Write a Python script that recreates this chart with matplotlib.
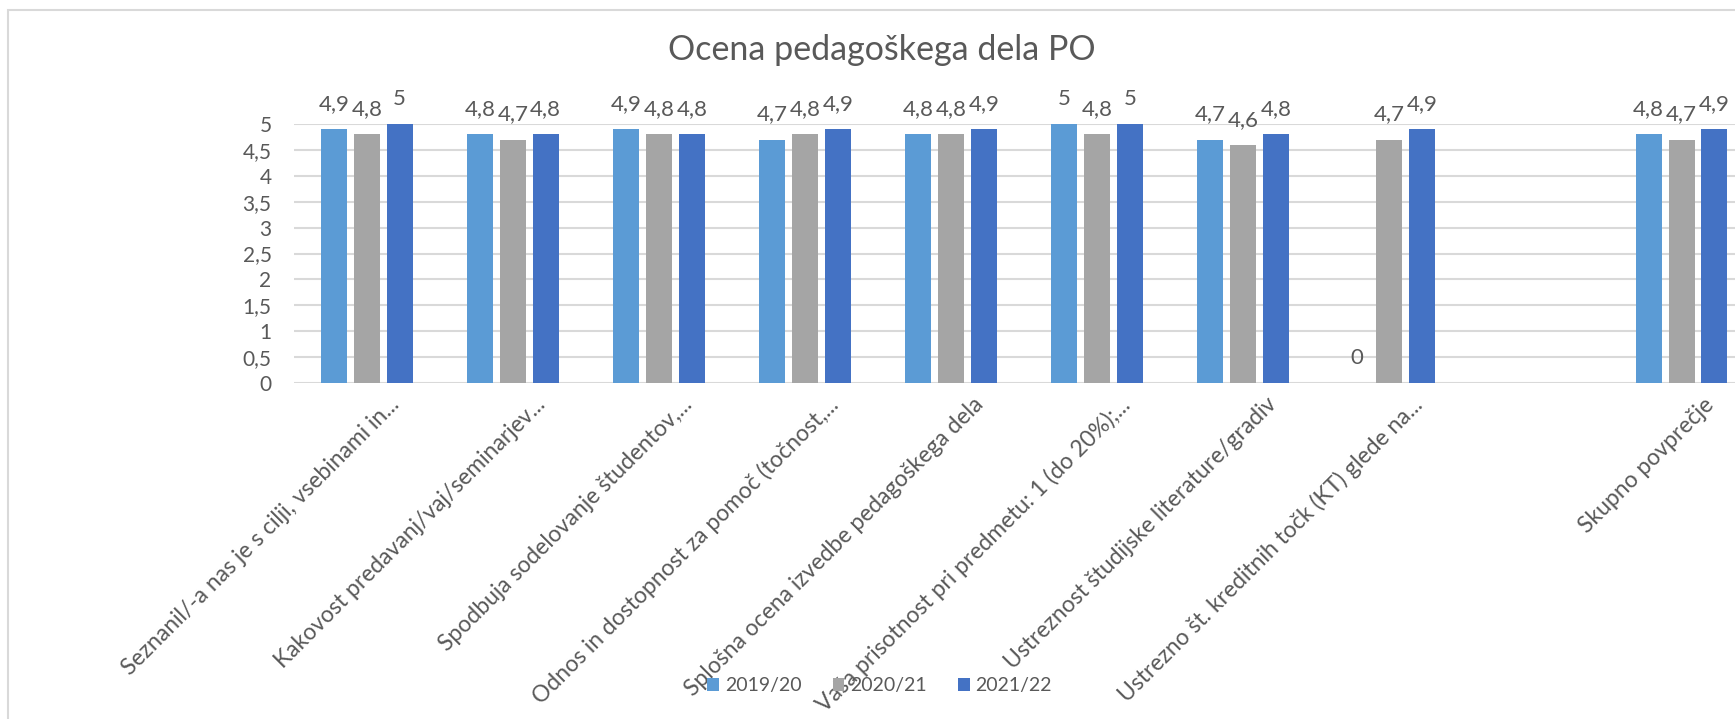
import matplotlib

matplotlib.use("Agg")
import matplotlib.pyplot as plt
import matplotlib.transforms as mtransforms
from matplotlib.patches import Rectangle
import numpy as np

categories = [
    "Seznanil/-a nas je s cilji, vsebinami in...",
    "Kakovost predavanj/vaj/seminarjev...",
    "Spodbuja sodelovanje študentov,...",
    "Odnos in dostopnost za pomoč (točnost,...",
    "Splošna ocena izvedbe pedagoškega dela",
    "Vaša prisotnost pri predmetu: 1 (do 20%);...",
    "Ustreznost študijske literature/gradiv",
    "Ustrezno št. kreditnih točk (KT) glede na...",
    "",
    "Skupno povprečje",
]
series_names = ["2019/20", "2020/21", "2021/22"]
vals_1920 = [4.9, 4.8, 4.9, 4.7, 4.8, 5, 4.7, 0, np.nan, 4.8]
vals_2021 = [4.8, 4.7, 4.8, 4.8, 4.8, 4.8, 4.6, 4.7, np.nan, 4.7]
vals_2122 = [5, 4.8, 4.8, 4.9, 4.9, 5, 4.8, 4.9, np.nan, 4.9]
yticks = [0, 0.5, 1, 1.5, 2, 2.5, 3, 3.5, 4, 4.5, 5]

colors = ["#5B9BD5", "#A5A5A5", "#4472C4"]
text_color = "#595959"
grid_color = "#D9D9D9"

plt.rcParams["font.family"] = ["Lato", "DejaVu Sans"]


def fmt(v):
    return f"{v:g}".replace(".", ",")


W, H = 1735, 719
fig = plt.figure(figsize=(W / 100, H / 100), dpi=100)
fig.patch.set_facecolor("white")

# chart frame (runs off right and bottom edges, as in the screenshot)
fig.patches.append(
    Rectangle((8 / W, -0.5), 2, 1.5 - 10 / H, transform=fig.transFigure,
              fill=False, edgecolor=grid_color, linewidth=1.5)
)

# plot area extends past the right edge of the figure
ax = fig.add_axes([0.1693, 0.4673, 0.842, 0.3602])
x = np.arange(len(categories))
pitch = 0.225
width = 0.178

for i, (name, vals) in enumerate(zip(series_names, [vals_1920, vals_2021, vals_2122])):
    pos = x + (i - 1) * pitch
    ax.bar(pos, vals, width, color=colors[i], label=name, zorder=3)
    for xp, v in zip(pos, vals):
        if np.isnan(v):
            continue
        ax.annotate(fmt(v), xy=(xp, v), xytext=(0, 18), textcoords="offset points",
                    ha="center", va="center", fontsize=16, color=text_color)

ax.set_xlim(-0.5, len(categories) - 0.5)
ax.set_ylim(0, 5)
ax.set_yticks(yticks)
ax.set_yticklabels([fmt(t) for t in yticks], fontsize=15, color=text_color)
ax.yaxis.grid(True, color=grid_color, linewidth=1.5, zorder=0)
ax.set_axisbelow(True)
ax.tick_params(axis="both", length=0)
ax.tick_params(axis="y", pad=16)
for s in ax.spines.values():
    s.set_visible(False)

ax.set_xticks(x)
ax.set_xticklabels(categories, rotation=45, ha="right", va="top",
                   rotation_mode="anchor", fontsize=16.5, color=text_color)
offset = mtransforms.ScaledTranslation(22 / 100, -6 / 100, fig.dpi_scale_trans)
for lbl in ax.get_xticklabels():
    lbl.set_transform(lbl.get_transform() + offset)

fig.text(0.508, 0.93, "Ocena pedagoškega dela PO", ha="center", va="center",
         fontsize=24.5, color=text_color)

leg = fig.legend(loc="center", bbox_to_anchor=(0.507, 0.046), ncol=3, frameon=False,
                 fontsize=14, handlelength=0.6, handleheight=0.6, handletextpad=0.3,
                 columnspacing=1.6, labelcolor=text_color)

fig.savefig("out.png", dpi=100)
